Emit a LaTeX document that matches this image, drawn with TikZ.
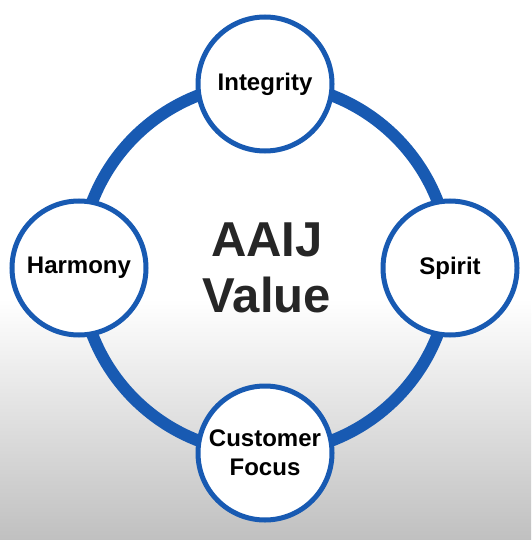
\documentclass[tikz,border=0pt]{standalone}
\usepackage{fontspec}
\setmainfont{Liberation Sans}
\definecolor{ringblue}{RGB}{24,90,178}
\definecolor{bggray}{RGB}{192,192,192}
\begin{document}
\begin{tikzpicture}[x=1pt,y=-1pt,
  valuecircle/.style={circle,draw=ringblue,line width=5pt,fill=white,minimum size=134pt,inner sep=0pt,align=center,
    font=\bfseries\fontsize{24}{29}\selectfont},
  bigring/.style={draw=ringblue,line width=12pt}]
\useasboundingbox (0,0) rectangle (531,540);
\fill[white] (0,0) rectangle (531,300);
\shade[top color=white,bottom color=bggray] (0,299) rectangle (531,540);
\coordinate (c) at (265,268);
\draw[bigring] (c) circle[radius=185];
\node[valuecircle] (integrity) at (265,84) {Integrity};
\node[valuecircle] (harmony) at (79,268) {Harmony};
\node[valuecircle] (spirit) at (450,268) {Spirit};
\node[valuecircle] (customer) at (265,453) {Customer\\Focus};
\node[font=\bfseries\fontsize{49}{56}\selectfont,align=center,text=black!85] (title) at (267,268) {AAIJ\\Value};
\end{tikzpicture}
\end{document}
